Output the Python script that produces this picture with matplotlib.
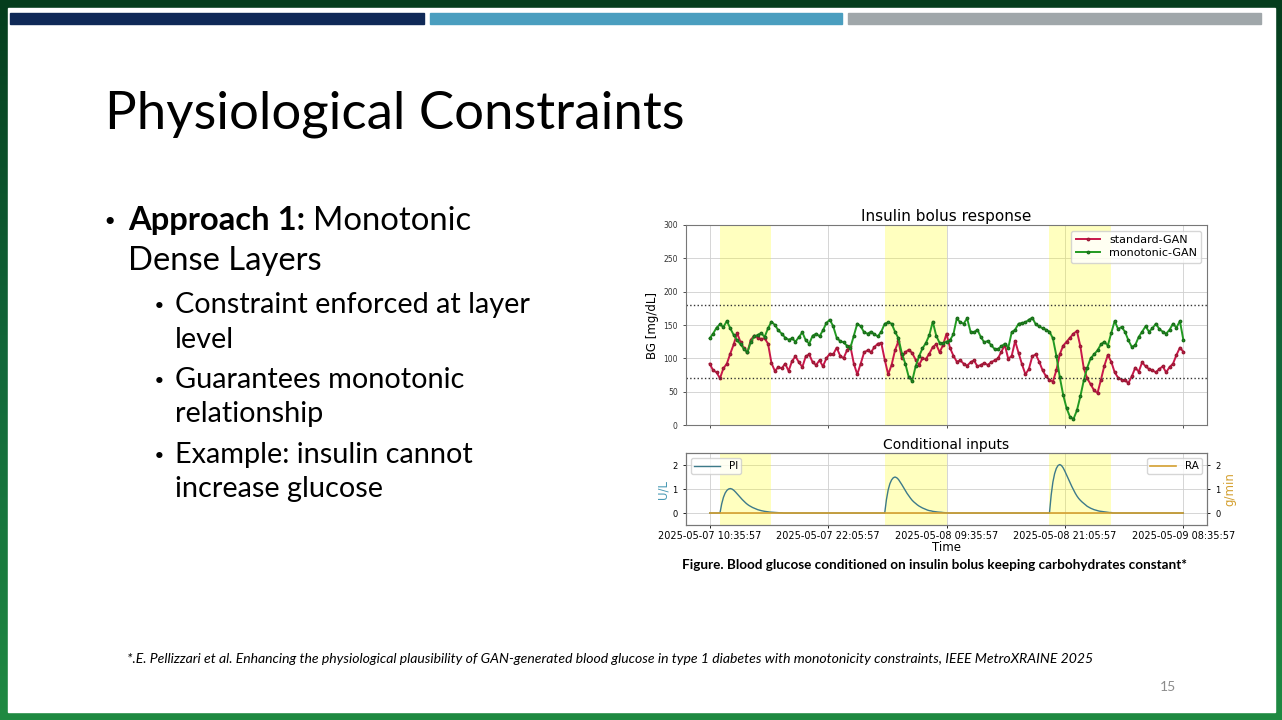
import numpy as np
import matplotlib.pyplot as plt
import matplotlib.dates as mdates
from matplotlib.colors import LinearSegmentedColormap
from matplotlib.patches import Rectangle
from datetime import datetime, timedelta

# ---- data ----
t0 = datetime(2025, 5, 7, 10, 35, 57)
bg_step_min = 20

# blood glucose, one row per hour (3 samples each), last value at +46h
standard_gan = [
    92, 82, 79, 70, 85, 92, 107, 121, 138, 124, 115, 109,
    128, 134, 131, 129, 130, 122, 93, 81, 87, 85, 92, 81,
    96, 103, 94, 87, 103, 106, 94, 90, 97, 88, 100, 107,
    106, 116, 104, 100, 112, 118, 92, 76, 92, 109, 112, 109,
    117, 122, 123, 98, 76, 90, 112, 126, 100, 109, 113, 108,
    98, 90, 100, 99, 107, 117, 121, 109, 120, 137, 116, 104,
    95, 97, 92, 89, 94, 97, 88, 90, 93, 90, 94, 97,
    100, 110, 120, 99, 104, 126, 108, 91, 76, 84, 103, 106,
    95, 82, 73, 68, 65, 82, 106, 119, 125, 131, 137, 141,
    118, 85, 70, 61, 52, 48, 68, 89, 105, 95, 79, 71,
    68, 67, 63, 73, 86, 80, 94, 88, 84, 82, 79, 84,
    88, 79, 87, 92, 105, 116,
    110]
monotonic_gan = [
    130, 137, 146, 151, 147, 156, 145, 135, 127, 121, 114, 109,
    125, 133, 135, 138, 132, 145, 155, 150, 142, 137, 131, 128,
    130, 125, 132, 139, 127, 122, 134, 137, 133, 142, 153, 158,
    148, 131, 126, 124, 119, 116, 134, 152, 148, 139, 137, 140,
    136, 133, 140, 152, 154, 152, 140, 130, 107, 92, 72, 66,
    88, 103, 115, 123, 135, 155, 134, 123, 123, 125, 127, 136,
    160, 154, 152, 160, 140, 139, 143, 132, 124, 126, 120, 114,
    114, 118, 122, 116, 139, 143, 152, 153, 154, 158, 161, 151,
    148, 145, 143, 140, 130, 104, 72, 45, 25, 12, 9, 22,
    43, 67, 86, 100, 106, 112, 121, 125, 119, 138, 156, 144,
    147, 140, 127, 117, 120, 132, 140, 148, 140, 145, 152, 144,
    140, 137, 143, 152, 146, 156,
    128]

# plasma insulin, 10-min samples after each bolus onset
pi_step_min = 10
pi_total_h = 46
bolus_onset_h = [1, 17, 33]
pi_bolus_1 = [0.0, 0.38, 0.65, 0.83, 0.94, 1.0, 1.02, 1.0, 0.95, 0.88, 0.8, 0.72,
              0.64, 0.56, 0.49, 0.42, 0.36, 0.31, 0.27, 0.23, 0.2, 0.17, 0.14, 0.12,
              0.1, 0.085, 0.07, 0.06, 0.05, 0.04, 0.035, 0.03, 0.025, 0.02, 0.015, 0.01, 0.01]
pi_bolus_2 = [0.0, 0.56, 0.96, 1.22, 1.38, 1.47, 1.5, 1.47, 1.4, 1.29, 1.18, 1.06,
              0.94, 0.82, 0.72, 0.62, 0.53, 0.46, 0.4, 0.34, 0.29, 0.25, 0.21, 0.18,
              0.15, 0.12, 0.1, 0.09, 0.07, 0.06, 0.05, 0.04, 0.035, 0.03, 0.02, 0.015, 0.01]
pi_bolus_3 = [0.0, 0.75, 1.29, 1.64, 1.86, 1.98, 2.02, 1.98, 1.88, 1.74, 1.58, 1.43,
              1.27, 1.11, 0.97, 0.83, 0.71, 0.61, 0.53, 0.46, 0.4, 0.34, 0.28, 0.24,
              0.2, 0.17, 0.14, 0.12, 0.1, 0.08, 0.07, 0.06, 0.05, 0.04, 0.03, 0.02, 0.02]
pi_boluses = [pi_bolus_1, pi_bolus_2, pi_bolus_3]

bolus_windows_h = [(1, 6), (17, 23), (33, 39)]
hypo_thr, hyper_thr = 70, 180
tick_labels = ["2025-05-07 10:35:57", "2025-05-07 22:05:57", "2025-05-08 09:35:57",
               "2025-05-08 21:05:57", "2025-05-09 08:35:57"]

# ---- series ----
bg_time = [t0 + timedelta(minutes=bg_step_min * i) for i in range(len(standard_gan))]
n_pi = pi_total_h * 60 // pi_step_min + 1
pi_time = [t0 + timedelta(minutes=pi_step_min * i) for i in range(n_pi)]
pi = np.zeros(n_pi)
for onset, seg in zip(bolus_onset_h, pi_boluses):
    i0 = onset * 60 // pi_step_min
    pi[i0:i0 + len(seg)] = seg
ra = np.zeros(n_pi)
ticks = [datetime.strptime(s, "%Y-%m-%d %H:%M:%S") for s in tick_labels]

# ---- slide ----
fig = plt.figure(figsize=(12.82, 7.2), dpi=100)
bg = fig.add_axes([0, 0, 1, 1])
grad = np.linspace(0, 1, 256).reshape(-1, 1)
cmap = LinearSegmentedColormap.from_list("g", ["#053d1d", "#12683a", "#1f8a42"])
bg.imshow(grad, extent=[0, 1282, 720, 0], aspect="auto", cmap=cmap)
bg.set_xlim(0, 1282)
bg.set_ylim(720, 0)
bg.axis("off")
bg.add_patch(Rectangle((8, 8), 1267, 704, color="white"))
bg.add_patch(Rectangle((10, 13), 414, 11, color="#0f2957"))
bg.add_patch(Rectangle((430, 13), 412, 11, color="#4a9ebf"))
bg.add_patch(Rectangle((848, 13), 413, 11, color="#a0a7aa"))

renderer = fig.canvas.get_renderer()


def width_px(t):
    return t.get_window_extent(renderer).width


def fit(t, w):
    t.set_fontsize(t.get_fontsize() * w / width_px(t))
    return t.get_fontsize()


title = bg.text(105, 129, "Physiological Constraints", family="Lato", fontsize=40,
                va="baseline", color="black")
fit(title, 579)

# level 1 bullet
ref = bg.text(128, 270, "Dense Layers", family="Lato", fontsize=20, va="baseline")
s1 = fit(ref, 194)
bg.text(110, 230, "\u2022", family="DejaVu Sans", fontsize=s1 * 0.75, va="baseline",
        ha="center")
b = bg.text(128, 230, "Approach 1:", family="Lato", fontweight="bold", fontsize=s1,
            va="baseline")
bg.text(128 + width_px(b) + s1 * 0.35, 230, "Monotonic", family="Lato", fontsize=s1,
        va="baseline")

# level 2 bullets
ref2 = bg.text(175, 313, "Constraint enforced at layer", family="Lato", fontsize=17,
               va="baseline")
s2 = fit(ref2, 355)
for y, txt in [(348, "level"), (388, "Guarantees monotonic"), (422, "relationship"),
               (463, "Example: insulin cannot"), (497, "increase glucose")]:
    bg.text(175, y, txt, family="Lato", fontsize=s2, va="baseline")
for y in [313, 388, 463]:
    bg.text(159, y, "\u2022", family="DejaVu Sans", fontsize=s2 * 0.75, va="baseline",
            ha="center")

cap = bg.text(934, 565, "Figure. Blood glucose conditioned on insulin bolus keeping "
              "carbohydrates constant*", family="Lato", fontweight="bold", fontsize=9,
              ha="center", va="center")
fit(cap, 504)

foot = bg.text(127, 659, "*.E. Pellizzari et al. Enhancing the physiological plausibility "
               "of GAN-generated blood glucose in type 1 diabetes with monotonicity "
               "constraints, IEEE MetroXRAINE 2025", family="Lato", style="italic",
               fontsize=9, va="center")
fit(foot, 966)
bg.text(1168, 687, "15", family="Lato", fontsize=10, color="#8c8c8c", ha="center",
        va="center")

# ---- chart ----
spine_c = "#777777"
ax = fig.add_axes([0.5351, 0.4097, 0.4064, 0.2778])
for s, e in bolus_windows_h:
    ax.axvspan(t0 + timedelta(hours=s), t0 + timedelta(hours=e), color="yellow",
               alpha=0.25, lw=0)
ax.plot(bg_time, standard_gan, color="#c8174a", marker=".", ms=3.5, lw=1.4,
        mec="#9a1a35", label="standard-GAN")
ax.plot(bg_time, monotonic_gan, color="#229a22", marker=".", ms=3.5, lw=1.4,
        mec="#1a6e1a", label="monotonic-GAN")
ax.axhline(hyper_thr, color="#333333", ls=":", lw=1)
ax.axhline(hypo_thr, color="#333333", ls=":", lw=1)
ax.set_ylim(0, 300)
ax.set_yticks(range(0, 301, 50))
ax.set_xticks(ticks)
ax.grid(True, color="#cfcfcf", lw=0.6)
ax.set_axisbelow(True)
ax.tick_params(labelbottom=False, labelsize=5.5, length=2.5, width=0.6, colors="#333333")
ax.set_title("Insulin bolus response", fontsize=11, pad=3)
ax.set_ylabel("BG [mg/dL]", fontsize=8.5, labelpad=3)
ax.legend(loc="upper right", fontsize=8, handlelength=2.2, borderpad=0.4,
          labelspacing=0.3, framealpha=0.8)
for sp in ax.spines.values():
    sp.set_color(spine_c)

ax2 = fig.add_axes([0.5351, 0.2708, 0.4064, 0.1000], sharex=ax)
for s, e in bolus_windows_h:
    ax2.axvspan(t0 + timedelta(hours=s), t0 + timedelta(hours=e), color="yellow",
                alpha=0.25, lw=0)
ax2.plot(pi_time, pi, color="#3d7a8a", lw=1, label="PI")
ax2.set_ylim(-0.5, 2.5)
ax2.set_yticks([0, 1, 2])
ax2.grid(True, color="#cfcfcf", lw=0.6)
ax2.set_axisbelow(True)
ax2.set_ylabel("U/L", color="#4a9ab5", fontsize=8.5, labelpad=2)
ax2.set_xlabel("Time", fontsize=8.5, labelpad=0)
ax2.set_title("Conditional inputs", fontsize=10, pad=3)
ax2.xaxis.set_major_formatter(mdates.DateFormatter("%Y-%m-%d %H:%M:%S"))
ax2.tick_params(axis="x", labelsize=7, length=2.5, width=0.6, pad=2)
ax2.tick_params(axis="y", labelsize=6, length=2.5, width=0.6)
ax2.legend(loc="upper left", fontsize=7.5, handlelength=2.5, borderpad=0.3)
for sp in ax2.spines.values():
    sp.set_color(spine_c)

ax2r = ax2.twinx()
ax2r.plot(pi_time, ra, color="#d4a030", lw=1.2, label="RA")
ax2r.set_ylim(-0.5, 2.5)
ax2r.set_yticks([0, 1, 2])
ax2r.set_ylabel("g/min", color="#d4a030", fontsize=8.5, labelpad=2)
ax2r.tick_params(axis="y", labelsize=6, length=2.5, width=0.6)
ax2r.legend(loc="upper right", fontsize=7.5, handlelength=2.5, borderpad=0.3)
for sp in ax2r.spines.values():
    sp.set_color(spine_c)

fig.savefig("out.png", dpi=100)
